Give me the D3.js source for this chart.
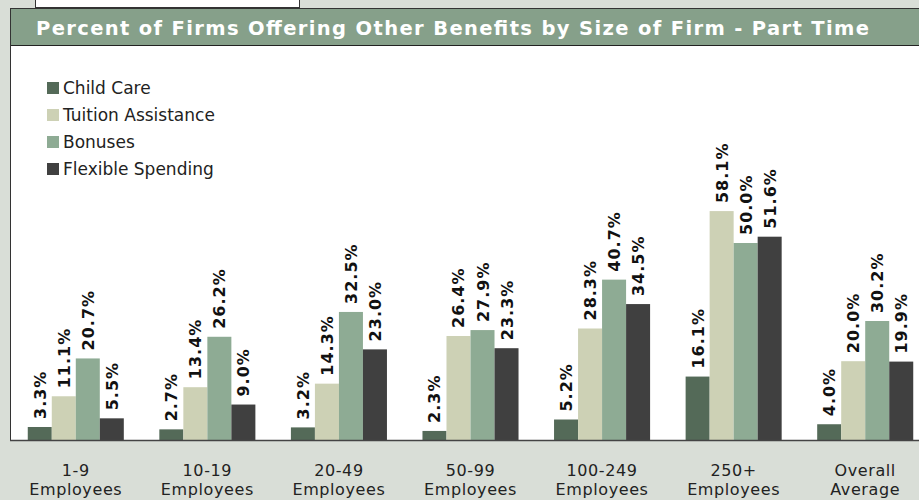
<!DOCTYPE html>
<html><head><meta charset="utf-8">
<script src="https://cdn.jsdelivr.net/npm/d3@7"></script>
<style>html,body{margin:0;padding:0;background:#d9ded7;overflow:hidden}</style>
</head><body>
<svg id="c" width="919" height="500"></svg>
<script>
const categories = [["1-9","Employees"],["10-19","Employees"],["20-49","Employees"],["50-99","Employees"],["100-249","Employees"],["250+","Employees"],["Overall","Average"]];
const seriesNames = ["Child Care","Tuition Assistance","Bonuses","Flexible Spending"];
const childCare = [3.3, 2.7, 3.2, 2.3, 5.2, 16.1, 4.0];
const tuition = [11.1, 13.4, 14.3, 26.4, 28.3, 58.1, 20.0];
const bonuses = [20.7, 26.2, 32.5, 27.9, 40.7, 50.0, 30.2];
const flexible = [5.5, 9.0, 23.0, 23.3, 34.5, 51.6, 19.9];
const title = "Percent of Firms Offering Other Benefits by Size of Firm - Part Time";

const colors = ["#546a58","#cdd1b5","#8eab94","#404040"];
const series = [childCare, tuition, bonuses, flexible];
const svg = d3.select("#c");
const font = "'DejaVu Sans', Verdana, sans-serif";

// top box (cropped)
svg.append("rect").attr("x",35.5).attr("y",-2).attr("width",264).attr("height",9.5)
  .attr("fill","#fff").attr("stroke","#333").attr("stroke-width",1);

// header
svg.append("rect").attr("x",10).attr("y",8).attr("width",915).attr("height",38)
  .attr("fill","#86a08a");
svg.append("line").attr("x1",10).attr("x2",919).attr("y1",8.5).attr("y2",8.5).attr("stroke","#333");
svg.append("line").attr("x1",10).attr("x2",919).attr("y1",45.5).attr("y2",45.5).attr("stroke","#222");
svg.append("text").attr("x",36).attr("y",35).attr("fill","#fff")
  .attr("font-family",font).attr("font-weight","bold").attr("font-size",19.5)
  .attr("textLength",833).attr("lengthAdjust","spacing")
  .text(title);

// plot area
const plotTop = 46, plotBottom = 440;
svg.append("rect").attr("x",11).attr("y",plotTop).attr("width",910).attr("height",plotBottom-plotTop).attr("fill","#fff");
svg.append("line").attr("x1",10.5).attr("x2",10.5).attr("y1",8).attr("y2",plotBottom+1).attr("stroke","#333");

const x0 = d3.scaleBand().domain(d3.range(categories.length)).range([10,931]).paddingInner(0.27).paddingOuter(0.135);
const x1 = d3.scaleBand().domain(d3.range(series.length)).range([0,x0.bandwidth()]);
const y = d3.scaleLinear().domain([0,100]).range([plotBottom, plotTop]);

const g = svg.append("g");
series.forEach((vals, si) => {
  g.selectAll(null).data(vals).enter().append("rect")
    .attr("x",(d,i)=>x0(i)+x1(si))
    .attr("y",d=>y(d))
    .attr("width",x1.bandwidth())
    .attr("height",d=>plotBottom-y(d))
    .attr("fill",colors[si]);
  g.selectAll(null).data(vals).enter().append("text")
    .attr("transform",(d,i)=>`translate(${x0(i)+x1(si)+x1.bandwidth()/2+6},${y(d)-8}) rotate(-90)`)
    .attr("font-family",font).attr("font-weight","bold").attr("font-size",16)
    .attr("fill","#111").attr("letter-spacing",1)
    .text(d=>d.toFixed(1)+"%");
});

// axis
const xAxis = d3.axisBottom(x0).tickSize(0).tickFormat("");
const ax = svg.append("g").attr("transform",`translate(0,${plotBottom})`).call(xAxis);
ax.select(".domain").attr("stroke","#444").attr("stroke-width",1.5).attr("d","M10,0.5H919");
categories.forEach((c,i)=>{
  const t = svg.append("text").attr("text-anchor","middle")
    .attr("font-family",font).attr("font-size",16).attr("letter-spacing",0.6).attr("fill","#222");
  t.append("tspan").attr("x",x0(i)+x0.bandwidth()/2).attr("y",476).text(c[0]);
  t.append("tspan").attr("x",x0(i)+x0.bandwidth()/2).attr("y",495).text(c[1]);
});

// legend
const leg = svg.append("g");
seriesNames.forEach((n,i)=>{
  const yy = 82 + i*27;
  leg.append("rect").attr("x",47).attr("y",yy).attr("width",12).attr("height",12).attr("fill",colors[i]);
  leg.append("text").attr("x",63).attr("y",yy+11.5).attr("font-family",font).attr("font-size",17)
    .attr("fill","#222").text(n);
});
</script>
</body></html>
